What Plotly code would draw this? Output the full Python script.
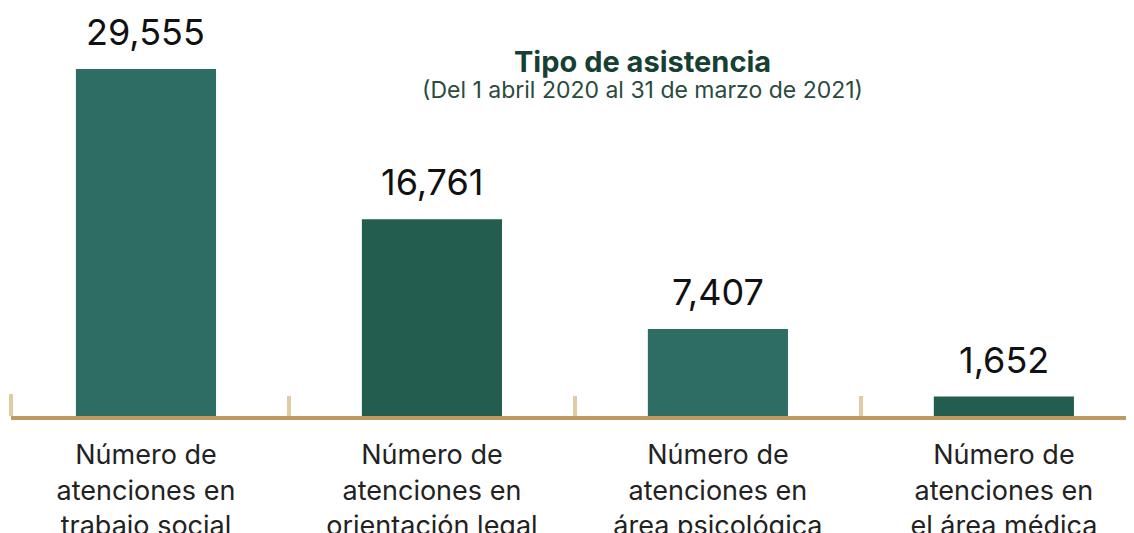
import plotly.graph_objects as go

categories = [
    "Número de<br>atenciones en<br>trabajo social",
    "Número de<br>atenciones en<br>orientación legal",
    "Número de<br>atenciones en<br>área psicológica",
    "Número de<br>atenciones en<br>el área médica",
]
values = [29555, 16761, 7407, 1652]
value_labels = ["29,555", "16,761", "7,407", "1,652"]
bar_colors = ["#2D6D64", "#235D4F", "#2D6D64", "#235D4F"]

FONT = "Inter"

fig = go.Figure()
fig.add_trace(go.Bar(
    x=categories,
    y=values,
    marker=dict(color=bar_colors, line=dict(width=0)),
    width=0.49,
    hoverinfo="skip",
))

for c, v, t in zip(categories, values, value_labels):
    fig.add_annotation(
        x=c, y=v, text=t, showarrow=False, yanchor="bottom", yshift=13,
        font=dict(family=FONT, size=36, color="#111111"),
    )

fig.add_annotation(
    xref="paper", yref="paper", x=0.558, y=0.870, xanchor="center", yanchor="middle",
    text="<b>Tipo de asistencia</b>", showarrow=False,
    font=dict(family=FONT, size=29, color="#173F33"),
)
fig.add_annotation(
    xref="paper", yref="paper", x=0.558, y=0.800, xanchor="center", yanchor="middle",
    text="(Del 1 abril 2020 al 31 de marzo de 2021)", showarrow=False,
    font=dict(family=FONT, size=23, color="#2B4A40"),
)

# first boundary tick at the left edge of the plot area
fig.add_shape(
    type="line", xref="paper", yref="y", x0=0, x1=0,
    ysizemode="pixel", yanchor=0, y0=0, y1=22,
    line=dict(color="#E1CBA2", width=4), layer="below",
)

fig.update_layout(
    width=1134, height=533,
    margin=dict(l=3, r=0, t=0, b=125),
    paper_bgcolor="white", plot_bgcolor="white",
    showlegend=False,
    xaxis=dict(
        type="category",
        automargin=False,
        range=[-0.472, 3.483],
        showline=True, linecolor="#BE9A5E", linewidth=4,
        ticks="inside", tickson="boundaries", ticklen=20, tickwidth=4,
        tickcolor="#E1CBA2",
        ticklabelstandoff=12,
        tickfont=dict(family=FONT, size=27, color="#222222"),
        showgrid=False, zeroline=False,
    ),
    yaxis=dict(
        automargin=False,
        range=[0, 34750], visible=False, showgrid=False, zeroline=False,
    ),
)

fig.write_html("out.html")
